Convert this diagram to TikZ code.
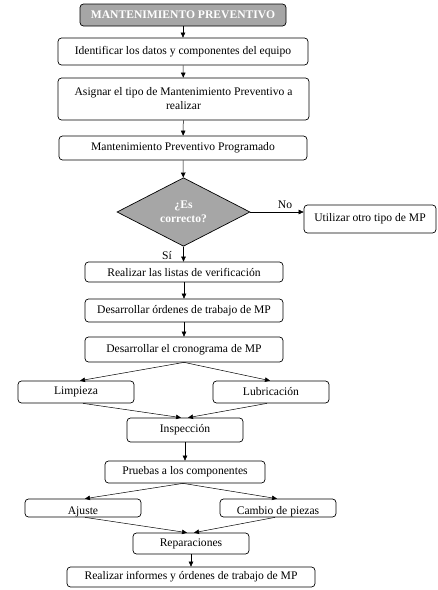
\documentclass[tikz,border=0pt]{standalone}
\usepackage{fontspec}
\setmainfont{Liberation Serif}
\usetikzlibrary{arrows.meta,shapes.geometric}
\definecolor{boxgray}{HTML}{A6A6A6}
\newcommand{\flfont}{\fontsize{11.6}{14}\selectfont}

\begin{document}
\begin{tikzpicture}[x=1pt, y=-1pt,
  paso/.style={draw, rounded corners=3.5pt, line width=0.7pt, fill=white,
    align=center, font=\flfont, inner sep=1pt},
  titulo/.style={paso, fill=boxgray, text=white, font=\flfont\bfseries},
  decision/.style={diamond, draw, line width=0.7pt, fill=boxgray, text=white,
    align=center, font=\flfont\bfseries, inner sep=0pt,
    minimum width=133pt, minimum height=68pt},
  bajo/.style={text height=13pt, text depth=0pt},
  flecha/.style={-{Triangle[length=5pt,width=4.5pt]}, line width=0.5pt}]
  \useasboundingbox (0,0) rectangle (438,590);

  \node[titulo, minimum width=206pt, minimum height=22pt] (mp) at (183,15)
    {MANTENIMIENTO PREVENTIVO};
  \node[paso, minimum width=250pt, minimum height=27pt] (ident) at (183,51.5)
    {Identificar los datos y componentes del equipo};
  \node[paso, minimum width=251pt, minimum height=42pt] (asig) at (183.5,99)
    {Asignar el tipo de Mantenimiento Preventivo a\\realizar};
  \node[paso, minimum width=248pt, minimum height=24pt] (mpp) at (183,148)
    {Mantenimiento Preventivo Programado};
  \node[decision] (dec) at (183.5,212) {¿Es\\correcto?};
  \node[paso, minimum width=132pt, minimum height=28pt] (otro) at (370,219)
    {Utilizar otro tipo de MP};
  \node[paso, minimum width=198pt, minimum height=20pt] (listas) at (184,272)
    {Realizar las listas de verificación};
  \node[paso, minimum width=198pt, minimum height=23pt] (ordenes) at (184,310.5)
    {Desarrollar órdenes de trabajo de MP};
  \node[paso, minimum width=198pt, minimum height=25pt] (crono) at (184,349.5)
    {Desarrollar el cronograma de MP};
  \node[paso, minimum width=116pt, minimum height=22pt] (limp) at (76,392)
    {Limpieza};
  \node[paso, minimum width=116pt, minimum height=22pt] (lubr) at (271,392)
    {Lubricación};
  \node[paso, minimum width=116pt, minimum height=24pt] (insp) at (185,430)
    {Inspección};
  \node[paso, minimum width=160pt, minimum height=22pt] (pruebas) at (185,472)
    {Pruebas a los componentes};
  \node[paso, bajo, minimum width=116pt, minimum height=18pt] (ajuste) at (83,508)
    {Ajuste};
  \node[paso, bajo, minimum width=116pt, minimum height=18pt] (cambio) at (278,508)
    {Cambio de piezas};
  \node[paso, minimum width=116pt, minimum height=21pt] (repar) at (191,543.5)
    {Reparaciones};
  \node[paso, minimum width=248pt, minimum height=20pt] (informe) at (191,577)
    {Realizar informes y órdenes de trabajo de MP};

  \draw[flecha] (mp) -- (ident);
  \draw[flecha] (ident) -- (asig);
  \draw[flecha] (asig) -- (mpp);
  \draw[flecha] (mpp) -- (dec);
  \draw[flecha] (dec.east) -- (dec.east -| otro.west)
    node[pos=0.65, above, font=\flfont] (no) {No};
  \draw[flecha] (dec.south) -- (dec.south |- listas.north)
    node[pos=0.6, left=8pt, font=\flfont] (si) {Sí};
  \draw[flecha] (listas) -- (ordenes);
  \draw[flecha] (ordenes) -- (crono);
  \draw[flecha] (crono.south) -- ([xshift=4pt]limp.north);
  \draw[flecha] (crono.south) -- ([xshift=-1pt]lubr.north);
  \draw[flecha] ([xshift=7pt]limp.south) -- ([xshift=-4pt]insp.north);
  \draw[flecha] ([xshift=-4pt]lubr.south) -- ([xshift=3pt]insp.north);
  \draw[flecha] (insp) -- (pruebas);
  \draw[flecha] ([xshift=-2pt]pruebas.south) -- ([xshift=2pt]ajuste.north);
  \draw[flecha] ([xshift=-2pt]pruebas.south) -- ([xshift=-1pt]cambio.north);
  \draw[flecha] ([xshift=2pt]ajuste.south) -- ([xshift=-4pt]repar.north);
  \draw[flecha] ([xshift=-3pt]cambio.south) -- ([xshift=3pt]repar.north);
  \draw[flecha] (repar) -- (informe);
\end{tikzpicture}
\end{document}
